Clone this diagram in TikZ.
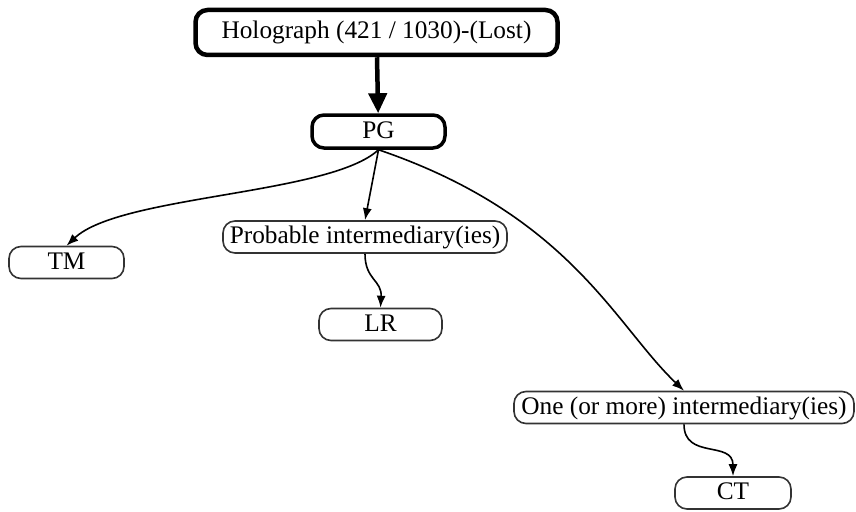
\documentclass[tikz,border=0pt]{standalone}
\usepackage{fontspec}
\setmainfont{Liberation Serif}
\usetikzlibrary{arrows.meta}

\tikzset{
  topbox/.style={draw, rounded corners=12pt, line width=4.5pt, fill=white, inner sep=0pt, text height=17pt, text depth=4pt},
  pgbox/.style={topbox, line width=3.5pt},
  leaf/.style={draw=black!80, rounded corners=12pt, line width=1.6pt, fill=white, inner sep=0pt, minimum height=32pt, text height=17pt, text depth=4pt},
  link/.style={-{Latex[length=12pt,width=9pt]}, line width=1.6pt},
}

\begin{document}
\begin{tikzpicture}[x=1pt, y=-1pt, font=\fontsize{25.3}{30}\selectfont]
        \fill[white] (0,0) rectangle (856,511);
        \useasboundingbox (0,0) rectangle (856,511);

        \node [topbox, minimum width=362pt, minimum height=45pt] (H) at (376.5,32.5) {Holograph (421 / 1030)-(Lost)};
        \node [pgbox, minimum width=133pt, minimum height=33pt] (PG) at (378.5,131.5) {PG};
        \node [leaf, minimum width=115pt] (TM) at (66.5,262.5) {TM};
        \node [leaf, minimum width=284pt] (PI) at (365,237) {Probable intermediary(ies)};
        \node [leaf, minimum width=123pt] (LR) at (380.5,324.5) {LR};
        \node [leaf, minimum width=340pt] (OI) at (684,407.5) {One (or more) intermediary(ies)};
        \node [leaf, minimum width=116pt] (CT) at (733,493) {CT};

        \draw[line width=4.5pt, -{Triangle[length=20pt,width=18pt]}] (H) -- (PG);

        \draw[link] (PG.south) .. controls (330,195) and (120,195) .. (TM.north);
        \draw[link] (PG.south) -- (PI.north -| 365,0);
        \draw[link] (PG.south) .. controls (570,215) and (615,325) .. (OI.north);

        \draw[link] (PI.south) .. controls (365,280) and (382,280) .. (LR.north);
        \draw[link] (OI.south) .. controls (684,460) and (733,440) .. (CT.north);

    \end{tikzpicture}
\end{document}
